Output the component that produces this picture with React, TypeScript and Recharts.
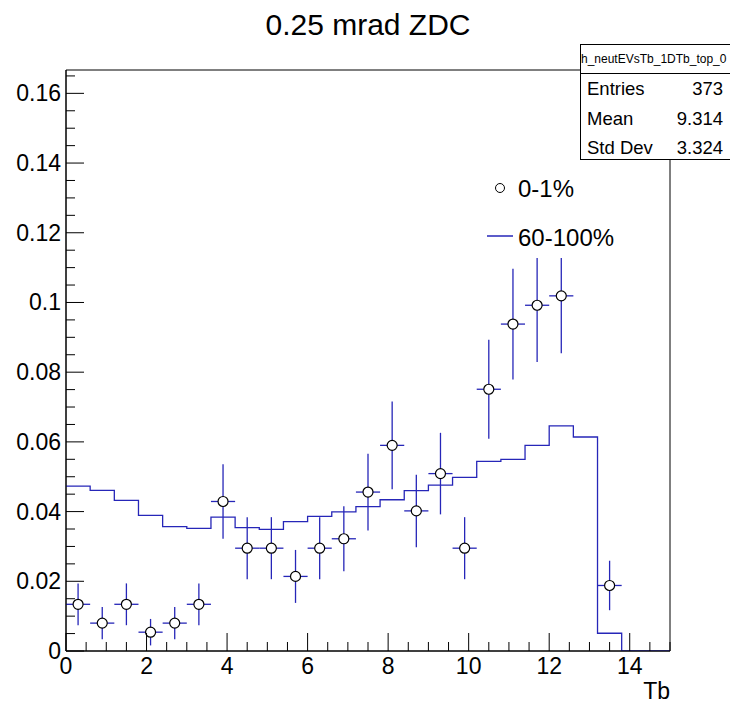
import React from "react";
import {
  ComposedChart,
  Line,
  Scatter,
  ErrorBar,
  XAxis,
  YAxis,
  ReferenceArea,
} from "recharts";

// 60-100% histogram: bin low edges (width 0.6) and contents
const histEdges = [
  0, 0.6, 1.2, 1.8, 2.4, 3.0, 3.6, 4.2, 4.8, 5.4, 6.0, 6.6, 7.2, 7.8, 8.4,
  9.0, 9.6, 10.2, 10.8, 11.4, 12.0, 12.6, 13.2, 13.8, 14.4, 15.0,
];
const histValues = [
  0.0473, 0.0461, 0.0432, 0.0389, 0.0357, 0.0352, 0.0384, 0.0354, 0.0349,
  0.0371, 0.0386, 0.0399, 0.0414, 0.0434, 0.046, 0.0476, 0.0498, 0.0544,
  0.055, 0.059, 0.0646, 0.0614, 0.0051, 0, 0, 0,
];

// 0-1% points with errors
const pointX = [
  0.3, 0.9, 1.5, 2.1, 2.7, 3.3, 3.9, 4.5, 5.1, 5.7, 6.3, 6.9, 7.5, 8.1, 8.7,
  9.3, 9.9, 10.5, 11.1, 11.7, 12.3, 13.5,
];
const pointY = [
  0.0134, 0.008, 0.0134, 0.0054, 0.008, 0.0134, 0.0429, 0.0295, 0.0295,
  0.0214, 0.0295, 0.0322, 0.0456, 0.059, 0.0402, 0.0509, 0.0295, 0.0751,
  0.0938, 0.0992, 0.1019, 0.0188,
];
const pointErr = [
  0.006, 0.0046, 0.006, 0.0038, 0.0046, 0.006, 0.0107, 0.0089, 0.0089,
  0.0076, 0.0089, 0.0093, 0.011, 0.0126, 0.0104, 0.0117, 0.0089, 0.0142,
  0.0159, 0.0163, 0.0165, 0.0071,
];
const halfBin = 0.3;

const xMajorTicks = [0, 2, 4, 6, 8, 10, 12, 14];
const yMajorTicks = [0, 0.02, 0.04, 0.06, 0.08, 0.1, 0.12, 0.14, 0.16];
const yMax = 0.1667;

const xTicks = Array.from({ length: 31 }, (_, i) => i * 0.5);
const yTicks = Array.from({ length: 34 }, (_, i) => +(i * 0.005).toFixed(3));

const histData = histEdges.map((x, i) => ({ x, h: histValues[i] }));
const pointData = pointX.map((x, i) => ({
  x,
  y: pointY[i],
  ey: pointErr[i],
  ex: halfBin,
}));

const BLUE = "#2626b8";
const FONT = '"Liberation Sans", Arial, Helvetica, sans-serif';

const isMajor = (list: number[], v: number) =>
  list.some((m) => Math.abs(m - v) < 1e-9);

function YTick(props: any) {
  const { x, y, payload } = props;
  const v = payload.value;
  const major = isMajor(yMajorTicks, v);
  return (
    <g>
      <line x1={x} x2={x + (major ? 18 : 9)} y1={y} y2={y} stroke="#000" />
      {major && (
        <text
          x={x - 5}
          y={y}
          textAnchor="end"
          dominantBaseline="central"
          fontSize={23}
          fontFamily={FONT}
          fill="#000"
        >
          {String(v)}
        </text>
      )}
    </g>
  );
}

function XTick(props: any) {
  const { x, y, payload } = props;
  const v = payload.value;
  const major = isMajor(xMajorTicks, v);
  return (
    <g>
      <line x1={x} x2={x} y1={y} y2={y - (major ? 18 : 9)} stroke="#000" />
      {major && (
        <text
          x={x}
          y={y + 23}
          textAnchor="middle"
          fontSize={23}
          fontFamily={FONT}
          fill="#000"
        >
          {String(v)}
        </text>
      )}
    </g>
  );
}

const circleShape = (p: any) => (
  <circle cx={p.cx} cy={p.cy} r={5} fill="#fff" stroke="#000" strokeWidth={1.2} />
);

export default function App() {
  return (
    <div
      style={{
        position: "absolute",
        left: 0,
        top: 0,
        width: 730,
        height: 703,
        overflow: "hidden",
        background: "#fff",
        fontFamily: FONT,
      }}
    >
      <ComposedChart
        width={730}
        height={703}
        margin={{ top: 70, right: 60, bottom: 0, left: 0 }}
      >
        <XAxis
          dataKey="x"
          type="number"
          domain={[0, 15]}
          ticks={xTicks}
          interval={0}
          allowDataOverflow
          tickSize={0}
          tickMargin={0}
          tickLine={false}
          tick={XTick}
          height={52}
          axisLine={{ stroke: "#000" }}
          label={{
            content: (lp: any) => {
              const vb = lp.viewBox;
              return (
                <text
                  x={vb.x + vb.width}
                  y={vb.y + vb.height - 4}
                  textAnchor="end"
                  fontSize={23}
                  fontFamily={FONT}
                  fill="#000"
                >
                  Tb
                </text>
              );
            },
          }}
        />
        <YAxis
          type="number"
          domain={[0, yMax]}
          ticks={yTicks}
          interval={0}
          allowDataOverflow
          tickSize={0}
          tickMargin={0}
          tickLine={false}
          tick={YTick}
          width={66}
          axisLine={{ stroke: "#000" }}
        />
        <ReferenceArea
          x1={0}
          x2={15}
          y1={0}
          y2={yMax}
          fill="none"
          fillOpacity={0}
          stroke="#000"
          strokeWidth={1}
        />
        <Line
          data={histData}
          dataKey="h"
          type="stepAfter"
          stroke={BLUE}
          strokeWidth={1.3}
          dot={false}
          activeDot={false}
          isAnimationActive={false}
        />
        <Scatter
          data={pointData}
          dataKey="y"
          shape={circleShape}
          isAnimationActive={false}
        >
          <ErrorBar
            dataKey="ey"
            direction="y"
            width={0}
            stroke={BLUE}
            strokeWidth={1.3}
            isAnimationActive={false}
          />
          <ErrorBar
            dataKey="ex"
            direction="x"
            width={0}
            stroke={BLUE}
            strokeWidth={1.3}
            isAnimationActive={false}
          />
        </Scatter>
      </ComposedChart>

      {/* title */}
      <div
        style={{
          position: "absolute",
          left: 0,
          top: 6,
          width: 736,
          textAlign: "center",
          fontSize: 30,
          lineHeight: "38px",
        }}
      >
        0.25 mrad ZDC
      </div>

      {/* legend */}
      <div
        style={{
          position: "absolute",
          left: 480,
          top: 168,
          width: 150,
          height: 90,
          background: "#fff",
        }}
      >
        <svg
          width={40}
          height={90}
          style={{ position: "absolute", left: 0, top: 0 }}
        >
          <circle cx={20} cy={20} r={4.5} fill="#fff" stroke="#000" />
          <line x1={7} x2={33} y1={68} y2={68} stroke={BLUE} strokeWidth={1.5} />
        </svg>
        <div style={{ position: "absolute", left: 38, top: 7, fontSize: 24, lineHeight: "28px" }}>
          0-1%
        </div>
        <div style={{ position: "absolute", left: 38, top: 56, fontSize: 24, lineHeight: "28px" }}>
          60-100%
        </div>
      </div>

      {/* stats box */}
      <div
        style={{
          position: "absolute",
          left: 580,
          top: 44,
          width: 170,
          height: 116,
          border: "1px solid #000",
          background: "#fff",
          boxSizing: "border-box",
        }}
      >
        <div
          style={{
            height: 28,
            borderBottom: "1px solid #000",
            fontSize: 12,
            lineHeight: "28px",
            whiteSpace: "nowrap",
            paddingLeft: 0,
          }}
        >
          h_neutEVsTb_1DTb_top_0
        </div>
        {[
          ["Entries", "373", 44],
          ["Mean", "9.314", 74],
          ["Std Dev", "3.324", 103],
        ].map(([k, v, cy]) => (
          <React.Fragment key={k as string}>
            <div
              style={{
                position: "absolute",
                left: 6,
                top: (cy as number) - 44 + 31,
                fontSize: 18.5,
                lineHeight: "26px",
              }}
            >
              {k}
            </div>
            <div
              style={{
                position: "absolute",
                left: 0,
                width: 142,
                textAlign: "right",
                top: (cy as number) - 44 + 31,
                fontSize: 18.5,
                lineHeight: "26px",
              }}
            >
              {v}
            </div>
          </React.Fragment>
        ))}
      </div>
    </div>
  );
}
